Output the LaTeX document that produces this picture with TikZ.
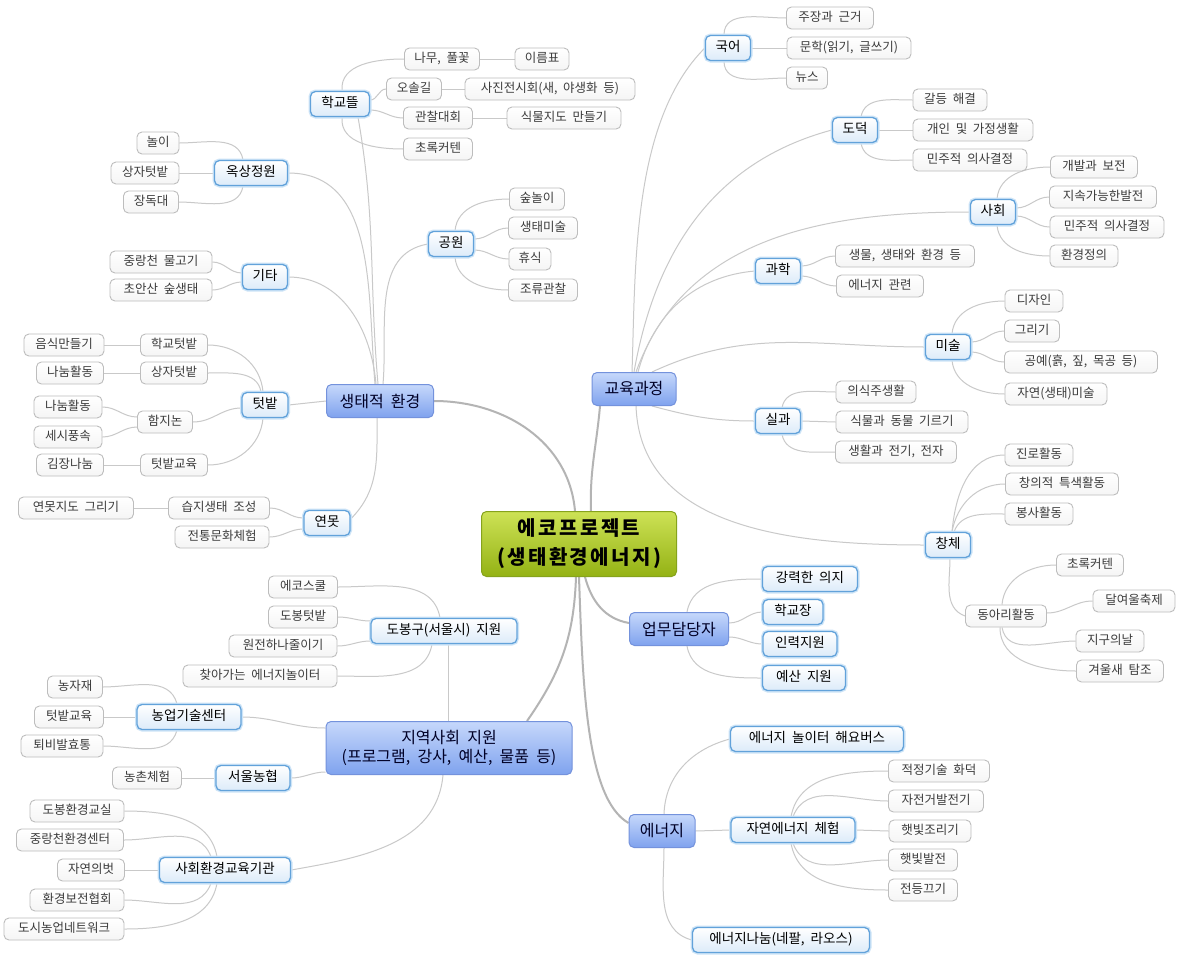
\documentclass[tikz,border=0pt]{standalone}
\usepackage{fontspec}
\setmainfont{Noto Sans CJK KR}[WordSpace=2]
\usetikzlibrary{backgrounds}

\definecolor{linkgray}{HTML}{C9C9C9}
\definecolor{trunkgray}{HTML}{B4B4B4}
\definecolor{roottop}{HTML}{CDE255}
\definecolor{rootbot}{HTML}{94B214}
\definecolor{rootline}{HTML}{86A31C}
\definecolor{maintop}{HTML}{C6D8FB}
\definecolor{mainbot}{HTML}{7FA2EE}
\definecolor{mainline}{HTML}{7492DC}
\definecolor{subline}{HTML}{62A2DA}
\definecolor{subglow}{HTML}{CDE4F7}
\definecolor{subbot}{HTML}{DCEBF9}
\definecolor{leafline}{HTML}{BDBDBD}
\definecolor{leaftext}{HTML}{3C3C3C}

\tikzset{
  mmbox/.style={rounded corners=5pt, inner sep=0pt, align=center},
  rootbox/.style={mmbox, draw=rootline, line width=1pt, top color=roottop, bottom color=rootbot,
    minimum height=65pt, font=\fontsize{20}{29}\selectfont\bfseries\addfontfeature{LetterSpace=12}},
  mainbox/.style={mmbox, draw=mainline, line width=1pt, top color=maintop, bottom color=mainbot,
    minimum height=33pt, text=black!85!blue, font=\fontsize{16}{19}\selectfont},
  subbox/.style={mmbox, draw=subline, line width=1.3pt, top color=white, bottom color=subbot,
    preaction={draw=subglow, line width=4pt}, minimum height=25pt,
    text height=0.8em, text depth=0.12em, font=\fontsize{13.5}{16}\selectfont},
  leafbox/.style={mmbox, draw=leafline, line width=0.9pt, top color=white, bottom color=black!4,
    minimum height=22pt, text=leaftext, text height=0.8em, text depth=0.12em,
    font=\fontsize{12.5}{14}\selectfont},
  lnk/.style={draw=linkgray, line width=1pt},
  trk/.style={draw=trunkgray, line width=2pt},
}

% #1 style, #2 name, #3 x, #4 y (downwards), #5 width, #6 text
\newcommand\mmnode[6]{\node[#1, minimum width=#5pt] (#2) at (#3,-#4) {#6};}

\begin{document}
\begin{tikzpicture}[x=1pt, y=1pt]
\useasboundingbox (0,0) rectangle (1181,-956);

% ---------- centre and main branches ----------
\mmnode{rootbox}{root}{579}{544}{195}{에코프로젝트\\(생태환경에너지)}
\mmnode{mainbox}{eco}{380}{401}{107}{생태적 환경}
\mmnode{mainbox}{edu}{634}{389}{84}{교육과정}
\mmnode{mainbox}{upmu}{679}{629}{99}{업무담당자}
\mmnode{mainbox}{energy}{662}{831}{66}{에너지}
\node[mainbox, minimum width=246pt, minimum height=53pt] (jiyeok) at (449,-748)
  {지역사회 지원\\(프로그램, 강사, 예산, 물품 등)};

% ---------- 생태적 환경 ----------
\mmnode{subbox}{hakgyo}{340}{104}{59}{학교뜰}
\mmnode{subbox}{oksang}{251}{173}{73}{옥상정원}
\mmnode{subbox}{gita}{265}{277}{45}{기타}
\mmnode{subbox}{gongwon}{451}{244}{45}{공원}
\mmnode{subbox}{tbat}{265}{405}{46}{텃밭}
\mmnode{subbox}{yeonmot}{327}{523}{46}{연못}

\mmnode{leafbox}{namu}{442}{59}{75}{나무, 풀꽃}
\mmnode{leafbox}{ireum}{542}{59}{54}{이름표}
\mmnode{leafbox}{osol}{414}{89}{55}{오솔길}
\mmnode{leafbox}{sajin}{550}{89}{170}{사진전시회(새, 야생화 등)}
\mmnode{leafbox}{gwanchal}{438}{118}{69}{관찰대회}
\mmnode{leafbox}{sikmul}{564}{118}{114}{식물지도 만들기}
\mmnode{leafbox}{chorokA}{438}{149}{69}{초록커텐}

\mmnode{leafbox}{nori}{158}{143}{42}{놀이}
\mmnode{leafbox}{sangjaA}{145}{173}{68}{상자텃밭}
\mmnode{leafbox}{jangdok}{151}{202}{55}{장독대}

\mmnode{leafbox}{jung}{161}{262}{102}{중랑천 물고기}
\mmnode{leafbox}{choan}{161}{290}{102}{초안산 숲생태}

\mmnode{leafbox}{sup}{537}{199}{55}{숲놀이}
\mmnode{leafbox}{misulp}{543}{228}{69}{생태미술}
\mmnode{leafbox}{hyusik}{530}{259}{42}{휴식}
\mmnode{leafbox}{joryu}{543}{290}{69}{조류관찰}

\mmnode{leafbox}{eumsik}{64}{345}{80}{음식만들기}
\mmnode{leafbox}{hakbat}{174}{345}{67}{학교텃밭}
\mmnode{leafbox}{nanumA}{70}{373}{67}{나눔활동}
\mmnode{leafbox}{sangjaB}{174}{373}{67}{상자텃밭}
\mmnode{leafbox}{nanumB}{68}{407}{68}{나눔활동}
\mmnode{leafbox}{sesi}{68}{437}{68}{세시풍속}
\mmnode{leafbox}{hamji}{165}{422}{55}{함지논}
\mmnode{leafbox}{gimjang}{70}{465}{67}{김장나눔}
\mmnode{leafbox}{tbedu}{174}{465}{67}{텃밭교육}

\mmnode{leafbox}{yeonji}{76}{508}{115}{연못지도 그리기}
\mmnode{leafbox}{seupji}{219}{508}{101}{습지생태 조성}
\mmnode{leafbox}{jeontong}{222}{537}{94}{전통문화체험}

% ---------- 교육과정 ----------
\mmnode{subbox}{gugeo}{728}{48}{45}{국어}
\mmnode{subbox}{dodeok}{855}{130}{45}{도덕}
\mmnode{subbox}{sahoe}{993}{212}{45}{사회}
\mmnode{subbox}{gwahak}{778}{271}{45}{과학}
\mmnode{subbox}{misul}{948}{347}{45}{미술}
\mmnode{subbox}{silgwa}{778}{421}{45}{실과}
\mmnode{subbox}{changche}{948}{545}{45}{창체}

\mmnode{leafbox}{jujang}{830}{18}{87}{주장과 근거}
\mmnode{leafbox}{munhak}{849}{48}{124}{문학(읽기, 글쓰기)}
\mmnode{leafbox}{news}{807}{78}{41}{뉴스}

\mmnode{leafbox}{galdeung}{950}{100}{74}{갈등 해결}
\mmnode{leafbox}{gaein}{973}{130}{120}{개인 및 가정생활}
\mmnode{leafbox}{minjuA}{970}{160}{114}{민주적 의사결정}

\mmnode{leafbox}{gaebal}{1094}{167}{87}{개발과 보전}
\mmnode{leafbox}{jisok}{1103}{197}{107}{지속가능한발전}
\mmnode{leafbox}{minjuB}{1107}{227}{114}{민주적 의사결정}
\mmnode{leafbox}{hwangyeong}{1084}{256}{68}{환경정의}

\mmnode{leafbox}{saengmul}{905}{256}{139}{생물, 생태와 환경 등}
\mmnode{leafbox}{enrel}{880}{286}{87}{에너지 관련}

\mmnode{leafbox}{design}{1034}{301}{58}{디자인}
\mmnode{leafbox}{geurigi}{1032}{331}{55}{그리기}
\mmnode{leafbox}{gongye}{1081}{362}{153}{공예(흙, 짚, 목공 등)}
\mmnode{leafbox}{jayeonmisul}{1056}{394}{102}{자연(생태)미술}

\mmnode{leafbox}{uisikju}{876}{392}{80}{의식주생활}
\mmnode{leafbox}{sikdong}{902}{422}{132}{식물과 동물 기르기}
\mmnode{leafbox}{saenghwal}{896}{452}{121}{생활과 전기, 전자}

\mmnode{leafbox}{jinro}{1039}{455}{68}{진로활동}
\mmnode{leafbox}{changui}{1062}{484}{113}{창의적 특색활동}
\mmnode{leafbox}{bongsa}{1039}{514}{68}{봉사활동}
\mmnode{leafbox}{dongari}{1006}{616}{81}{동아리활동}
\mmnode{leafbox}{chorokB}{1090}{565}{67}{초록커텐}
\mmnode{leafbox}{daryeoul}{1134}{601}{82}{달여울축제}
\mmnode{leafbox}{jigu}{1110}{641}{68}{지구의날}
\mmnode{leafbox}{gyeoul}{1120}{671}{87}{겨울새 탐조}

% ---------- 업무담당자 ----------
\mmnode{subbox}{uiji}{810}{579}{95}{강력한 의지}
\mmnode{subbox}{hakgyojang}{793}{612}{60}{학교장}
\mmnode{subbox}{inryeok}{800}{644}{74}{인력지원}
\mmnode{subbox}{yesan}{804}{678}{83}{예산 지원}

% ---------- 에너지 ----------
\mmnode{subbox}{haeyo}{817}{739}{173}{에너지 놀이터 해요버스}
\mmnode{subbox}{jayeon}{793}{830}{124}{자연에너지 체험}
\mmnode{subbox}{nanum}{781}{940}{177}{에너지나눔(네팔, 라오스)}

\mmnode{leafbox}{jeokjeong}{939}{771}{101}{적정기술 화덕}
\mmnode{leafbox}{jajeongeo}{936}{801}{95}{자전거발전기}
\mmnode{leafbox}{haetjori}{930}{831}{82}{햇빛조리기}
\mmnode{leafbox}{haetbal}{923}{860}{69}{햇빛발전}
\mmnode{leafbox}{jeondeung}{923}{890}{69}{전등끄기}

% ---------- 지역사회 지원 ----------
\mmnode{subbox}{dobong}{444}{631}{146}{도봉구(서울시) 지원}
\mmnode{subbox}{nonggi}{189}{717}{104}{농업기술센터}
\mmnode{subbox}{nonghyup}{253}{778}{74}{서울농협}
\mmnode{subbox}{sahoeedu}{225}{870}{131}{사회환경교육기관}

\mmnode{leafbox}{ecoschool}{303}{587}{69}{에코스쿨}
\mmnode{leafbox}{dbtbat}{303}{617}{69}{도봉텃밭}
\mmnode{leafbox}{wonjeon}{283}{646}{108}{원전하나줄이기}
\mmnode{leafbox}{chaja}{260}{676}{154}{찾아가는 에너지놀이터}

\mmnode{leafbox}{nongjajae}{75}{687}{55}{농자재}
\mmnode{leafbox}{tbeduB}{69}{717}{69}{텃밭교육}
\mmnode{leafbox}{toebi}{62}{746}{82}{퇴비발효통}
\mmnode{leafbox}{nongchon}{147}{778}{69}{농촌체험}

\mmnode{leafbox}{dbclass}{77}{811}{94}{도봉환경교실}
\mmnode{leafbox}{jungcenter}{70}{840}{107}{중랑천환경센터}
\mmnode{leafbox}{jayeonbeot}{91}{870}{67}{자연의벗}
\mmnode{leafbox}{hwanbo}{77}{900}{94}{환경보전협회}
\mmnode{leafbox}{dosi}{64}{929}{120}{도시농업네트워크}

% ---------- connectors ----------
\begin{scope}[on background layer]
\fill[white] (0,0) rectangle (1181,-956);

% trunks from the centre
\draw[trk] ([xshift=-4pt]root.north) to[out=95,in=0] (eco.east);
\draw[trk] ([xshift=12pt]root.north) to[out=92,in=-95] ([xshift=-34pt]edu.south);
\draw[trk] ([xshift=6pt]root.south) to[out=-75,in=170] ([yshift=6pt]upmu.west);
\draw[trk] (root.south) to[out=-88,in=150,out looseness=1.1,in looseness=0.5] ([yshift=8pt]energy.west);
\draw[trk] ([xshift=-3pt]root.south) to[out=-92,in=55] ([xshift=78pt]jiyeok.north);

% 생태적 환경
\draw[lnk] ([xshift=-2pt]eco.north) to[out=95,in=-80] ([xshift=18pt]hakgyo.south);
\draw[lnk] ([xshift=-5pt]eco.north) to[out=95,in=0] (oksang.east);
\draw[lnk] ([xshift=-4pt]eco.north) to[out=95,in=0] (gita.east);
\draw[lnk] ([xshift=3pt]eco.north) to[out=85,in=190] (gongwon.west);
\draw[lnk] (eco.west) -- (tbat.east);
\draw[lnk] ([xshift=-3pt]eco.south) to[out=-90,in=45] ([yshift=4pt]yeonmot.east);

\draw[lnk] ([xshift=2pt]hakgyo.north) to[out=95,in=180] (namu.west);
\draw[lnk] ([yshift=4pt]hakgyo.east) to[out=0,in=180] (osol.west);
\draw[lnk] ([yshift=-6pt]hakgyo.east) to[out=0,in=180] (gwanchal.west);
\draw[lnk] ([xshift=2pt]hakgyo.south) to[out=-95,in=180] (chorokA.west);
\draw[lnk] (namu.east) -- (ireum.west);
\draw[lnk] (osol.east) -- (sajin.west);
\draw[lnk] (gwanchal.east) -- (sikmul.west);

\draw[lnk] ([xshift=-8pt]oksang.north) to[out=100,in=0] (nori.east);
\draw[lnk] (oksang.west) -- (sangjaA.east);
\draw[lnk] ([xshift=-8pt]oksang.south) to[out=-100,in=0] (jangdok.east);

\draw[lnk] ([yshift=4pt]gita.west) to[out=180,in=0] (jung.east);
\draw[lnk] ([yshift=-5pt]gita.west) to[out=180,in=0] (choan.east);

\draw[lnk] ([xshift=4pt]gongwon.north) to[out=85,in=180] (sup.west);
\draw[lnk] ([yshift=5pt]gongwon.east) to[out=0,in=180] (misulp.west);
\draw[lnk] ([yshift=-6pt]gongwon.east) to[out=0,in=180] (hyusik.west);
\draw[lnk] ([xshift=4pt]gongwon.south) to[out=-85,in=180] (joryu.west);

\draw[lnk] ([xshift=-2pt]tbat.north) to[out=95,in=0] (hakbat.east);
\draw[lnk] ([xshift=-4pt]tbat.north) to[out=100,in=0] (sangjaB.east);
\draw[lnk] ([yshift=-3pt]tbat.west) to[out=180,in=0] (hamji.east);
\draw[lnk] ([xshift=-2pt]tbat.south) to[out=-95,in=0] (tbedu.east);
\draw[lnk] (hakbat.west) -- (eumsik.east);
\draw[lnk] (sangjaB.west) -- (nanumA.east);
\draw[lnk] ([yshift=5pt]hamji.west) to[out=180,in=0] (nanumB.east);
\draw[lnk] ([yshift=-5pt]hamji.west) to[out=180,in=0] (sesi.east);
\draw[lnk] (tbedu.west) -- (gimjang.east);

\draw[lnk] ([yshift=5pt]yeonmot.west) to[out=180,in=0] (seupji.east);
\draw[lnk] ([yshift=-6pt]yeonmot.west) to[out=180,in=0] (jeontong.east);
\draw[lnk] (seupji.west) -- (yeonji.east);

% 교육과정
\draw[lnk] ([xshift=-2pt]edu.north) to[out=88,in=225,looseness=0.8] (gugeo.west);
\draw[lnk] (edu.north) to[out=80,in=195] (dodeok.west);
\draw[lnk] ([xshift=2pt]edu.north) to[out=70,in=180] (sahoe.west);
\draw[lnk] ([xshift=4pt]edu.north) to[out=75,in=185] (gwahak.west);
\draw[lnk] ([xshift=18pt]edu.north) to[out=25,in=180] (misul.west);
\draw[lnk] ([xshift=18pt]edu.south) to[out=-15,in=180] (silgwa.west);
\draw[lnk] ([xshift=2pt]edu.south) to[out=-88,in=180] (changche.west);

\draw[lnk] ([xshift=-4pt]gugeo.north) to[out=90,in=180] (jujang.west);
\draw[lnk] (gugeo.east) -- (munhak.west);
\draw[lnk] ([xshift=-4pt]gugeo.south) to[out=-90,in=180] (news.west);

\draw[lnk] ([xshift=6pt]dodeok.north) to[out=80,in=180] (galdeung.west);
\draw[lnk] (dodeok.east) -- (gaein.west);
\draw[lnk] ([xshift=6pt]dodeok.south) to[out=-80,in=180] (minjuA.west);

\draw[lnk] ([xshift=4pt]sahoe.north) to[out=85,in=180] (gaebal.west);
\draw[lnk] ([yshift=4pt]sahoe.east) to[out=0,in=180] (jisok.west);
\draw[lnk] ([yshift=-4pt]sahoe.east) to[out=0,in=180] (minjuB.west);
\draw[lnk] ([xshift=4pt]sahoe.south) to[out=-85,in=180] (hwangyeong.west);

\draw[lnk] ([yshift=5pt]gwahak.east) to[out=0,in=180] (saengmul.west);
\draw[lnk] ([yshift=-5pt]gwahak.east) to[out=0,in=180] (enrel.west);

\draw[lnk] ([xshift=4pt]misul.north) to[out=85,in=180] (design.west);
\draw[lnk] ([yshift=5pt]misul.east) to[out=0,in=180] (geurigi.west);
\draw[lnk] ([yshift=-5pt]misul.east) to[out=0,in=180] (gongye.west);
\draw[lnk] ([xshift=4pt]misul.south) to[out=-85,in=180] (jayeonmisul.west);

\draw[lnk] ([xshift=4pt]silgwa.north) to[out=80,in=180] (uisikju.west);
\draw[lnk] (silgwa.east) -- (sikdong.west);
\draw[lnk] ([xshift=4pt]silgwa.south) to[out=-80,in=180] (saenghwal.west);

\draw[lnk] ([xshift=4pt]changche.north) to[out=85,in=180] (jinro.west);
\draw[lnk] ([xshift=4pt]changche.north) to[out=80,in=180] (changui.west);
\draw[lnk] ([xshift=6pt]changche.north) to[out=70,in=180] (bongsa.west);
\draw[lnk] ([xshift=2pt]changche.south) to[out=-90,in=160] (dongari.west);

\draw[lnk] ([xshift=-4pt]dongari.north) to[out=85,in=180] (chorokB.west);
\draw[lnk] ([yshift=3pt]dongari.east) to[out=0,in=180] (daryeoul.west);
\draw[lnk] ([xshift=-4pt]dongari.south) to[out=-80,in=180] (jigu.west);
\draw[lnk] ([xshift=-6pt]dongari.south) to[out=-90,in=180] (gyeoul.west);

% 업무담당자
\draw[lnk] ([xshift=8pt]upmu.north) to[out=80,in=180] (uiji.west);
\draw[lnk] ([yshift=6pt]upmu.east) to[out=0,in=180] (hakgyojang.west);
\draw[lnk] ([yshift=-8pt]upmu.east) to[out=0,in=180] (inryeok.west);
\draw[lnk] ([xshift=8pt]upmu.south) to[out=-80,in=180] (yesan.west);

% 에너지
\draw[lnk] ([xshift=2pt]energy.north) to[out=88,in=195] (haeyo.west);
\draw[lnk] (energy.east) -- (jayeon.west);
\draw[lnk] ([xshift=2pt]energy.south) to[out=-90,in=165] (nanum.west);

\draw[lnk] ([xshift=-2pt]jayeon.north) to[out=80,in=180] (jeokjeong.west);
\draw[lnk] (jayeon.north) to[out=70,in=180] (jajeongeo.west);
\draw[lnk] (jayeon.east) -- (haetjori.west);
\draw[lnk] (jayeon.south) to[out=-70,in=180] (haetbal.west);
\draw[lnk] ([xshift=-2pt]jayeon.south) to[out=-80,in=180] (jeondeung.west);

% 지역사회 지원
\draw[lnk] ([xshift=4pt]dobong.south) -- ([xshift=-1pt]jiyeok.north);
\draw[lnk] ([yshift=20pt]jiyeok.west) to[out=180,in=0] (nonggi.east);
\draw[lnk] ([yshift=-24pt]jiyeok.west) to[out=180,in=0] (nonghyup.east);
\draw[lnk] ([xshift=-6pt]jiyeok.south) to[out=-95,in=10] (sahoeedu.east);

\draw[lnk] ([xshift=-4pt]dobong.north) to[out=100,in=0] (ecoschool.east);
\draw[lnk] ([yshift=10pt]dobong.west) to[out=180,in=0] (dbtbat.east);
\draw[lnk] ([yshift=-10pt]dobong.west) to[out=180,in=0] (wonjeon.east);
\draw[lnk] ([xshift=-12pt]dobong.south) to[out=-100,in=0] (chaja.east);

\draw[lnk] ([xshift=-12pt]nonggi.north) to[out=105,in=0] (nongjajae.east);
\draw[lnk] (nonggi.west) -- (tbeduB.east);
\draw[lnk] ([xshift=-12pt]nonggi.south) to[out=-105,in=0] (toebi.east);
\draw[lnk] (nonghyup.west) -- (nongchon.east);

\draw[lnk] ([xshift=-8pt]sahoeedu.north) to[out=100,in=0] (dbclass.east);
\draw[lnk] ([xshift=-14pt]sahoeedu.north) to[out=110,in=0] (jungcenter.east);
\draw[lnk] (sahoeedu.west) -- (jayeonbeot.east);
\draw[lnk] ([xshift=-14pt]sahoeedu.south) to[out=-110,in=0] (hwanbo.east);
\draw[lnk] ([xshift=-8pt]sahoeedu.south) to[out=-100,in=0] (dosi.east);
\end{scope}
\end{tikzpicture}
\end{document}
